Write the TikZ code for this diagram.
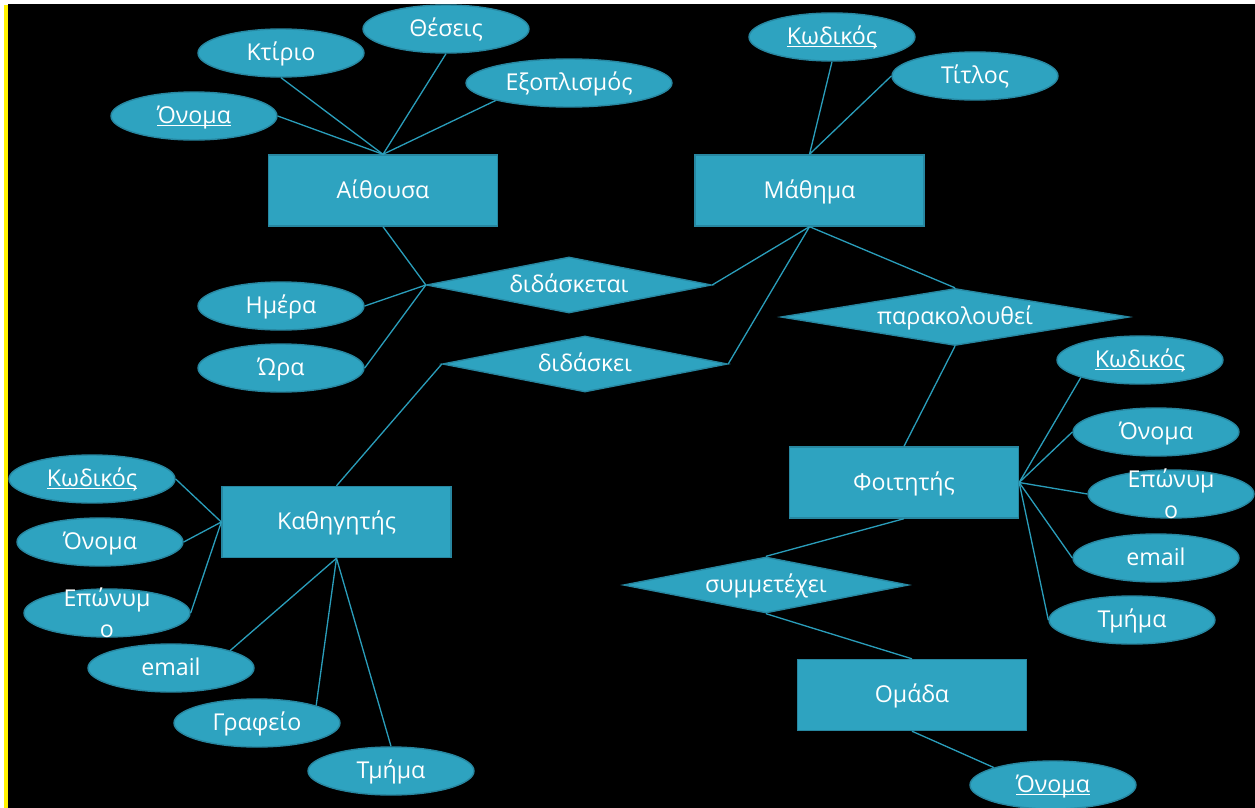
\documentclass[tikz,border=0pt]{standalone}
\usepackage{fontspec}
\setmainfont{Open Sans}
\usetikzlibrary{shapes.geometric}

\definecolor{erfill}{HTML}{2EA3C0}
\definecolor{eredge}{HTML}{2787A1}
\definecolor{erline}{HTML}{2A9DBA}

% key attributes are underlined close to the baseline
\newcommand\keyattr[1]{\setbox0\hbox{#1}%
  \rlap{\smash{\rule[-0.1em]{\wd0}{0.06em}}}\box0}

\begin{document}
\begin{tikzpicture}[
  x=0.02cm, y=-0.02cm,
  every node/.style={text=white,font=\fontsize{13.2}{17.6}\selectfont},
  shape text/.style={text height=0.9em,text depth=0pt},
  entity/.style={shape text,draw=eredge,fill=erfill,line width=0.8pt,
    minimum width=4.58cm,minimum height=1.42cm},
  relation/.style={shape text,diamond,aspect=5,inner sep=0pt,draw=eredge,
    fill=erfill,line width=0.8pt,minimum width=5.7cm,minimum height=1.12cm},
  attr/.style={shape text,ellipse,inner sep=0pt,draw=eredge,fill=erfill,
    line width=0.8pt,minimum width=3.32cm,minimum height=0.96cm},
  wrapped/.style={align=center},
  link/.style={erline,line width=0.75pt}
]
  \useasboundingbox (0,0) rectangle (1255,808);

  % Slide background with the thin yellow edge on the left.
  \fill[white] (0,0) rectangle (1255,808);
  \fill[yellow] (4,5) rectangle (8,808);
  \fill[black] (8,4) rectangle (1255,808);

  % Entities.
  \node[entity] (aith) at (383,190.5) {Αίθουσα};
  \node[entity] (math) at (809.5,190.5) {Μάθημα};
  \node[entity] (kath) at (336.5,522) {Καθηγητής};
  \node[entity] (foit) at (904,482.5) {Φοιτητής};
  \node[entity] (omad) at (912,695) {Ομάδα};

  % Relationships.
  \node[relation] (didasketai) at (569,285) {διδάσκεται};
  \node[relation] (didaskei) at (585,364) {διδάσκει};
  \node[relation,minimum width=6.96cm,minimum height=1.14cm]
    (parakol) at (955,317) {παρακολουθεί};
  \node[relation] (symm) at (766,585) {συμμετέχει};

  % Attributes of Αίθουσα.
  \node[attr] (onomaA) at (194,116) {\keyattr{Όνομα}};
  \node[attr] (ktirio) at (281,53) {Κτίριο};
  \node[attr] (theseis) at (446,29) {Θέσεις};
  \node[attr,minimum width=4.12cm] (exopl) at (569,83) {Εξοπλισμός};

  % Attributes of Μάθημα.
  \node[attr] (kodM) at (832,37) {\keyattr{Κωδικός}};
  \node[attr] (titlos) at (975,76) {Τίτλος};

  % Attributes of διδάσκεται.
  \node[attr] (imera) at (281,306) {Ημέρα};
  \node[attr] (ora) at (281,368) {Ώρα};

  % Attributes of Καθηγητής.
  \node[attr] (kodK) at (92,479) {\keyattr{Κωδικός}};
  \node[attr] (onomaK) at (100,542) {Όνομα};
  \node[attr,label={[wrapped]center:Επώνυμ\\ο}] (eponK) at (107,613) {};
  \node[attr] (emailK) at (171,668) {email};
  \node[attr] (grafeio) at (257,723) {Γραφείο};
  \node[attr] (tmimaK) at (391,771) {Τμήμα};

  % Attributes of Φοιτητής.
  \node[attr] (kodF) at (1140,360) {\keyattr{Κωδικός}};
  \node[attr] (onomaF) at (1156,432) {Όνομα};
  \node[attr,label={[wrapped]center:Επώνυμ\\ο}] (eponF) at (1171,494) {};
  \node[attr] (emailF) at (1156,558) {email};
  \node[attr] (tmimaF) at (1132,620) {Τμήμα};

  % Attribute of Ομάδα.
  \node[attr] (onomaO) at (1053,785) {\keyattr{Όνομα}};

  % Connectors.
  \draw[link] (aith.north) -- (onomaA.east);
  \draw[link] (aith.north) -- (ktirio.south);
  \draw[link] (aith.north) -- (theseis.south);
  \draw[link] (aith.north) -- (exopl.south west);
  \draw[link] (math.north) -- (kodM.south);
  \draw[link] (math.north) -- (titlos.west);
  \draw[link] (aith.south) -- (didasketai.west);
  \draw[link] (didasketai.west) -- (imera.east);
  \draw[link] (didasketai.west) -- (ora.east);
  \draw[link] (math.south) -- (didasketai.east);
  \draw[link] (math.south) -- (didaskei.east);
  \draw[link] (math.south) -- (parakol.north);
  \draw[link] (didaskei.west) -- (kath.north);
  \draw[link] (kath.west) -- (kodK.east);
  \draw[link] (kath.west) -- (onomaK.east);
  \draw[link] (kath.west) -- (eponK.east);
  \draw[link] (kath.south) -- (emailK.north east);
  \draw[link] (kath.south) -- (grafeio.north east);
  \draw[link] (kath.south) -- (tmimaK.north);
  \draw[link] (parakol.south) -- (foit.north);
  \draw[link] (foit.east) -- (kodF.south west);
  \draw[link] (foit.east) -- (onomaF.west);
  \draw[link] (foit.east) -- (eponF.west);
  \draw[link] (foit.east) -- (emailF.west);
  \draw[link] (foit.east) -- (tmimaF.west);
  \draw[link] (foit.south) -- (symm.north);
  \draw[link] (symm.south) -- (omad.north);
  \draw[link] (omad.south) -- (onomaO.north west);
\end{tikzpicture}
\end{document}
